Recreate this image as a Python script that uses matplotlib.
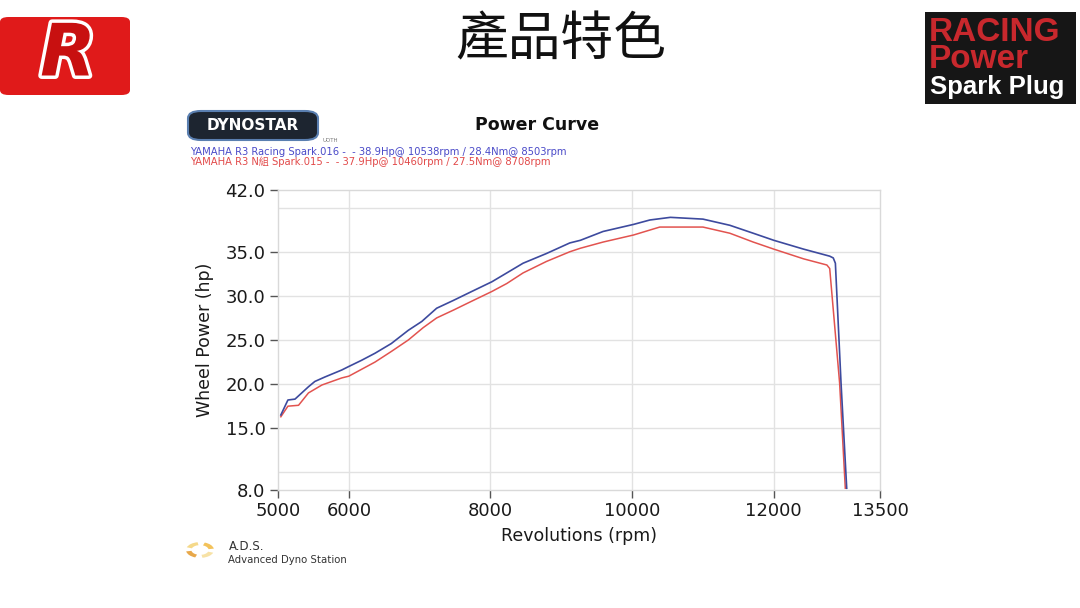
import matplotlib
matplotlib.use("Agg")
import matplotlib.pyplot as plt
from matplotlib.patches import FancyBboxPatch, Rectangle, Wedge
import matplotlib.patheffects as pe

# ---------------- data ----------------
rpm_racing = [5040, 5140, 5240, 5430, 5520, 5660, 5900, 6000, 6180, 6370, 6600, 6840,
              7030, 7240, 7480, 7710, 8020, 8230, 8460, 8790, 9120, 9270, 9590, 10020,
              10250, 10540, 11000, 11380, 11710, 12000, 12420, 12790, 12840, 12870,
              12950, 13030]
hp_racing = [16.5, 18.2, 18.3, 19.7, 20.3, 20.8, 21.6, 22.0, 22.7, 23.5, 24.6, 26.1,
             27.1, 28.6, 29.5, 30.4, 31.6, 32.6, 33.7, 34.8, 36.0, 36.3, 37.3, 38.1,
             38.6, 38.9, 38.7, 38.0, 37.1, 36.3, 35.3, 34.5, 34.3, 33.7,
             20.1, 8.2]

rpm_stock = [5040, 5140, 5290, 5430, 5620, 5900, 6000, 6370, 6600, 6840, 7050, 7240,
             7480, 7710, 8020, 8230, 8460, 8790, 9120, 9270, 9590, 10020, 10390, 11000,
             11380, 11710, 12000, 12420, 12750, 12790, 12930, 13010]
hp_stock = [16.3, 17.5, 17.6, 19.0, 19.9, 20.7, 20.9, 22.5, 23.7, 25.0, 26.4, 27.5,
            28.4, 29.3, 30.5, 31.4, 32.6, 33.9, 35.0, 35.4, 36.1, 36.9, 37.8, 37.8,
            37.1, 36.1, 35.3, 34.2, 33.5, 33.1, 20.1, 8.2]

x_ticks = [5000, 6000, 8000, 10000, 12000, 13500]
y_ticks = [8.0, 15.0, 20.0, 25.0, 30.0, 35.0, 42.0]
x_grid = [6000, 8000, 10000, 12000]
y_grid = [10, 15, 20, 25, 30, 35, 40]

legend_racing = "YAMAHA R3 Racing Spark.016 -  - 38.9Hp@ 10538rpm / 28.4Nm@ 8503rpm"
legend_stock = "YAMAHA R3 N組 Spark.015 -  - 37.9Hp@ 10460rpm / 27.5Nm@ 8708rpm"

BLUE = "#3d4a9e"
RED = "#e2534f"

plt.rcParams['font.family'] = ['DejaVu Sans', 'Noto Sans CJK TC']

fig = plt.figure(figsize=(10.8, 6.08), dpi=100)
fig.patch.set_facecolor("white")

W, H = 1080.0, 608.0
def fx(px):
    return px / W
def fy(py):
    return 1 - py / H

# ---------------- main axes ----------------
ax = fig.add_axes([fx(278), fy(490), (880 - 278) / W, (490 - 190) / H])
ax.set_xlim(5000, 13500)
ax.set_ylim(8, 42)
for g in x_grid:
    ax.axvline(g, color="#e2e2e2", lw=1.0, zorder=0)
for g in y_grid:
    ax.axhline(g, color="#e2e2e2", lw=1.0, zorder=0)

ax.plot(rpm_stock, hp_stock, color=RED, lw=1.1, zorder=3, clip_on=True)
ax.plot(rpm_racing, hp_racing, color=BLUE, lw=1.2, zorder=4, clip_on=True)

ax.set_xticks(x_ticks)
ax.set_xticklabels([str(v) for v in x_ticks])
ax.set_yticks(y_ticks)
ax.set_yticklabels([f"{v:.1f}" for v in y_ticks])
ax.tick_params(axis="both", labelsize=13, colors="#555555", labelcolor="#1a1a1a",
               length=6, width=1.0, pad=3)
ax.tick_params(axis="x", pad=3)
for s in ax.spines.values():
    s.set_color("#d9d9d9")
    s.set_linewidth(1.0)

ax.set_ylabel("Wheel Power (hp)", fontsize=12.5, color="#1a1a1a", labelpad=8)
ax.set_xlabel("Revolutions (rpm)", fontsize=12.5, color="#1a1a1a", labelpad=5)

# ---------------- chart header ----------------
fig.text(fx(537), fy(125), "Power Curve", fontsize=12.5, fontweight="bold",
         ha="center", va="center", color="#111111")
fig.text(fx(190), fy(152), legend_racing, fontsize=7.2, color="#4a4ac8",
         ha="left", va="center")
fig.text(fx(190), fy(162), legend_stock, fontsize=7.2, color="#e24a4a",
         ha="left", va="center")

# Dynostar logo
logo = FancyBboxPatch((fx(188), fy(140)), fx(318) - fx(188), fy(111) - fy(140),
                      boxstyle="round,pad=0,rounding_size=0.012",
                      transform=fig.transFigure, facecolor="#1d2530",
                      edgecolor="#5a7fb0", lw=1.5, zorder=5)
fig.add_artist(logo)
fig.text(fx(253), fy(126), "DYNOSTAR", fontsize=11, fontweight="bold",
         color="white", ha="center", va="center", zorder=6)
fig.text(fx(330), fy(140), "UOTH", fontsize=4, color="#777777",
         ha="center", va="center")

# ADS logo
for i, col in enumerate(["#f3c25a", "#f5d98a", "#e8a84a", "#f7e2a6"]):
    w = Wedge((fx(200), fy(550)), 0.013, i * 90 + 10, i * 90 + 70, width=0.005,
              transform=fig.transFigure, facecolor=col, edgecolor="none")
    fig.add_artist(w)
fig.text(fx(229), fy(546), "A.D.S.", fontsize=8.5, color="#333333",
         ha="left", va="center")
fig.text(fx(228), fy(560), "Advanced Dyno Station", fontsize=7.3, color="#333333",
         ha="left", va="center")

# ---------------- slide decorations ----------------
fig.text(fx(561), fy(40), "產品特色", fontsize=38, color="#111111",
         ha="center", va="center", family=["Noto Sans CJK TC"], fontweight="light")

# top-left red logo
rl = FancyBboxPatch((fx(0), fy(95)), fx(130), fy(17) - fy(95),
                    boxstyle="round,pad=0,rounding_size=0.008",
                    transform=fig.transFigure, facecolor="#e01a1a",
                    edgecolor="none", zorder=5)
fig.add_artist(rl)
fig.text(fx(68), fy(56), "R", fontsize=52, fontweight="heavy", style="italic",
         color="#c81010", ha="center", va="center", zorder=6,
         path_effects=[pe.withStroke(linewidth=5, foreground="white")])

# top-right box
rb = Rectangle((fx(925), fy(104)), fx(1076) - fx(925), fy(12) - fy(104),
               transform=fig.transFigure, facecolor="#161616", edgecolor="none",
               zorder=5)
fig.add_artist(rb)
fig.text(fx(929), fy(46), "RACING\nPower", fontsize=24, fontweight="bold",
         color="#c8282d", ha="left", va="center", linespacing=0.85,
         family=["Liberation Sans"], zorder=6)
fig.text(fx(930), fy(87), "Spark Plug", fontsize=18.5, fontweight="bold", color="white",
         ha="left", va="center", family=["Liberation Sans"], zorder=6)

fig.savefig("out.png", dpi=100, facecolor="white")
